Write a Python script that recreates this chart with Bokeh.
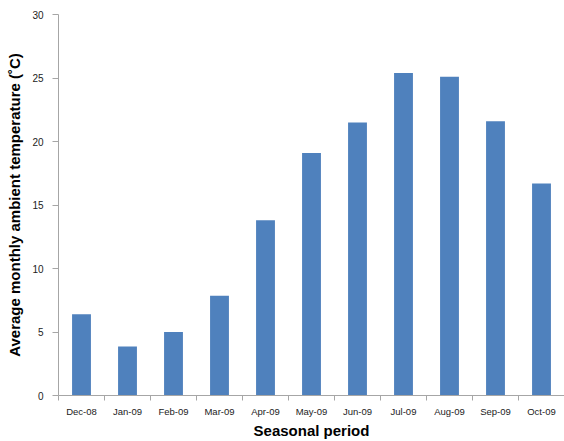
from bokeh.plotting import figure
from bokeh.models import FixedTicker, Range1d
from bokeh.embed import file_html
from bokeh.resources import INLINE

months = ["Dec-08", "Jan-09", "Feb-09", "Mar-09", "Apr-09", "May-09",
          "Jun-09", "Jul-09", "Aug-09", "Sep-09", "Oct-09"]
temps = [6.4, 3.85, 5.0, 7.85, 13.8, 19.1, 21.5, 25.4, 25.1, 21.6, 16.7]
y_ticks = [0, 5, 10, 15, 20, 25, 30]

x = list(range(len(months)))
FONT = "Liberation Sans"
AXIS_GRAY = "#a6a6a6"

p = figure(width=564, height=441, output_backend="svg", toolbar_location=None,
           x_range=Range1d(-0.5, len(months) - 0.5), y_range=Range1d(0, 30),
           min_border_left=58, min_border_right=0, min_border_top=14, min_border_bottom=45)
p.vbar(x=x, top=temps, width=0.41, fill_color="#4F81BD", line_color=None)

p.outline_line_color = None
p.grid.grid_line_color = None
p.background_fill_color = "white"

# x axis
xa = p.xaxis[0]
xa.ticker = FixedTicker(ticks=x, minor_ticks=[i - 0.5 for i in range(len(months) + 1)])
xa.major_label_overrides = {i: m for i, m in enumerate(months)}
xa.major_tick_line_color = None
xa.major_tick_out = 0
xa.major_tick_in = 0
xa.minor_tick_out = 5
xa.minor_tick_in = 0
xa.minor_tick_line_color = AXIS_GRAY
xa.axis_line_color = AXIS_GRAY
xa.major_label_standoff = 5
xa.major_label_text_font = FONT
xa.major_label_text_font_size = "9.5px"
xa.major_label_text_color = "#222222"
xa.axis_label = "Seasonal period"
xa.axis_label_text_font = FONT
xa.axis_label_text_font_size = "15px"
xa.axis_label_text_font_style = "bold"
xa.axis_label_text_color = "#000000"
xa.axis_label_standoff = 2

# y axis
ya = p.yaxis[0]
ya.ticker = FixedTicker(ticks=y_ticks, minor_ticks=[])
ya.major_tick_out = 6
ya.major_tick_in = 0
ya.major_tick_line_color = AXIS_GRAY
ya.minor_tick_line_color = None
ya.axis_line_color = AXIS_GRAY
ya.major_label_standoff = 9
ya.major_label_text_font = FONT
ya.major_label_text_font_size = "10px"
ya.major_label_text_color = "#222222"
ya.axis_label = "Average monthly ambient temperature (\u02daC)"
ya.axis_label_text_font = FONT
ya.axis_label_text_font_size = "15px"
ya.axis_label_text_font_style = "bold"
ya.axis_label_text_color = "#000000"
ya.axis_label_standoff = 6

open("out.html", "w").write(file_html(p, INLINE))
